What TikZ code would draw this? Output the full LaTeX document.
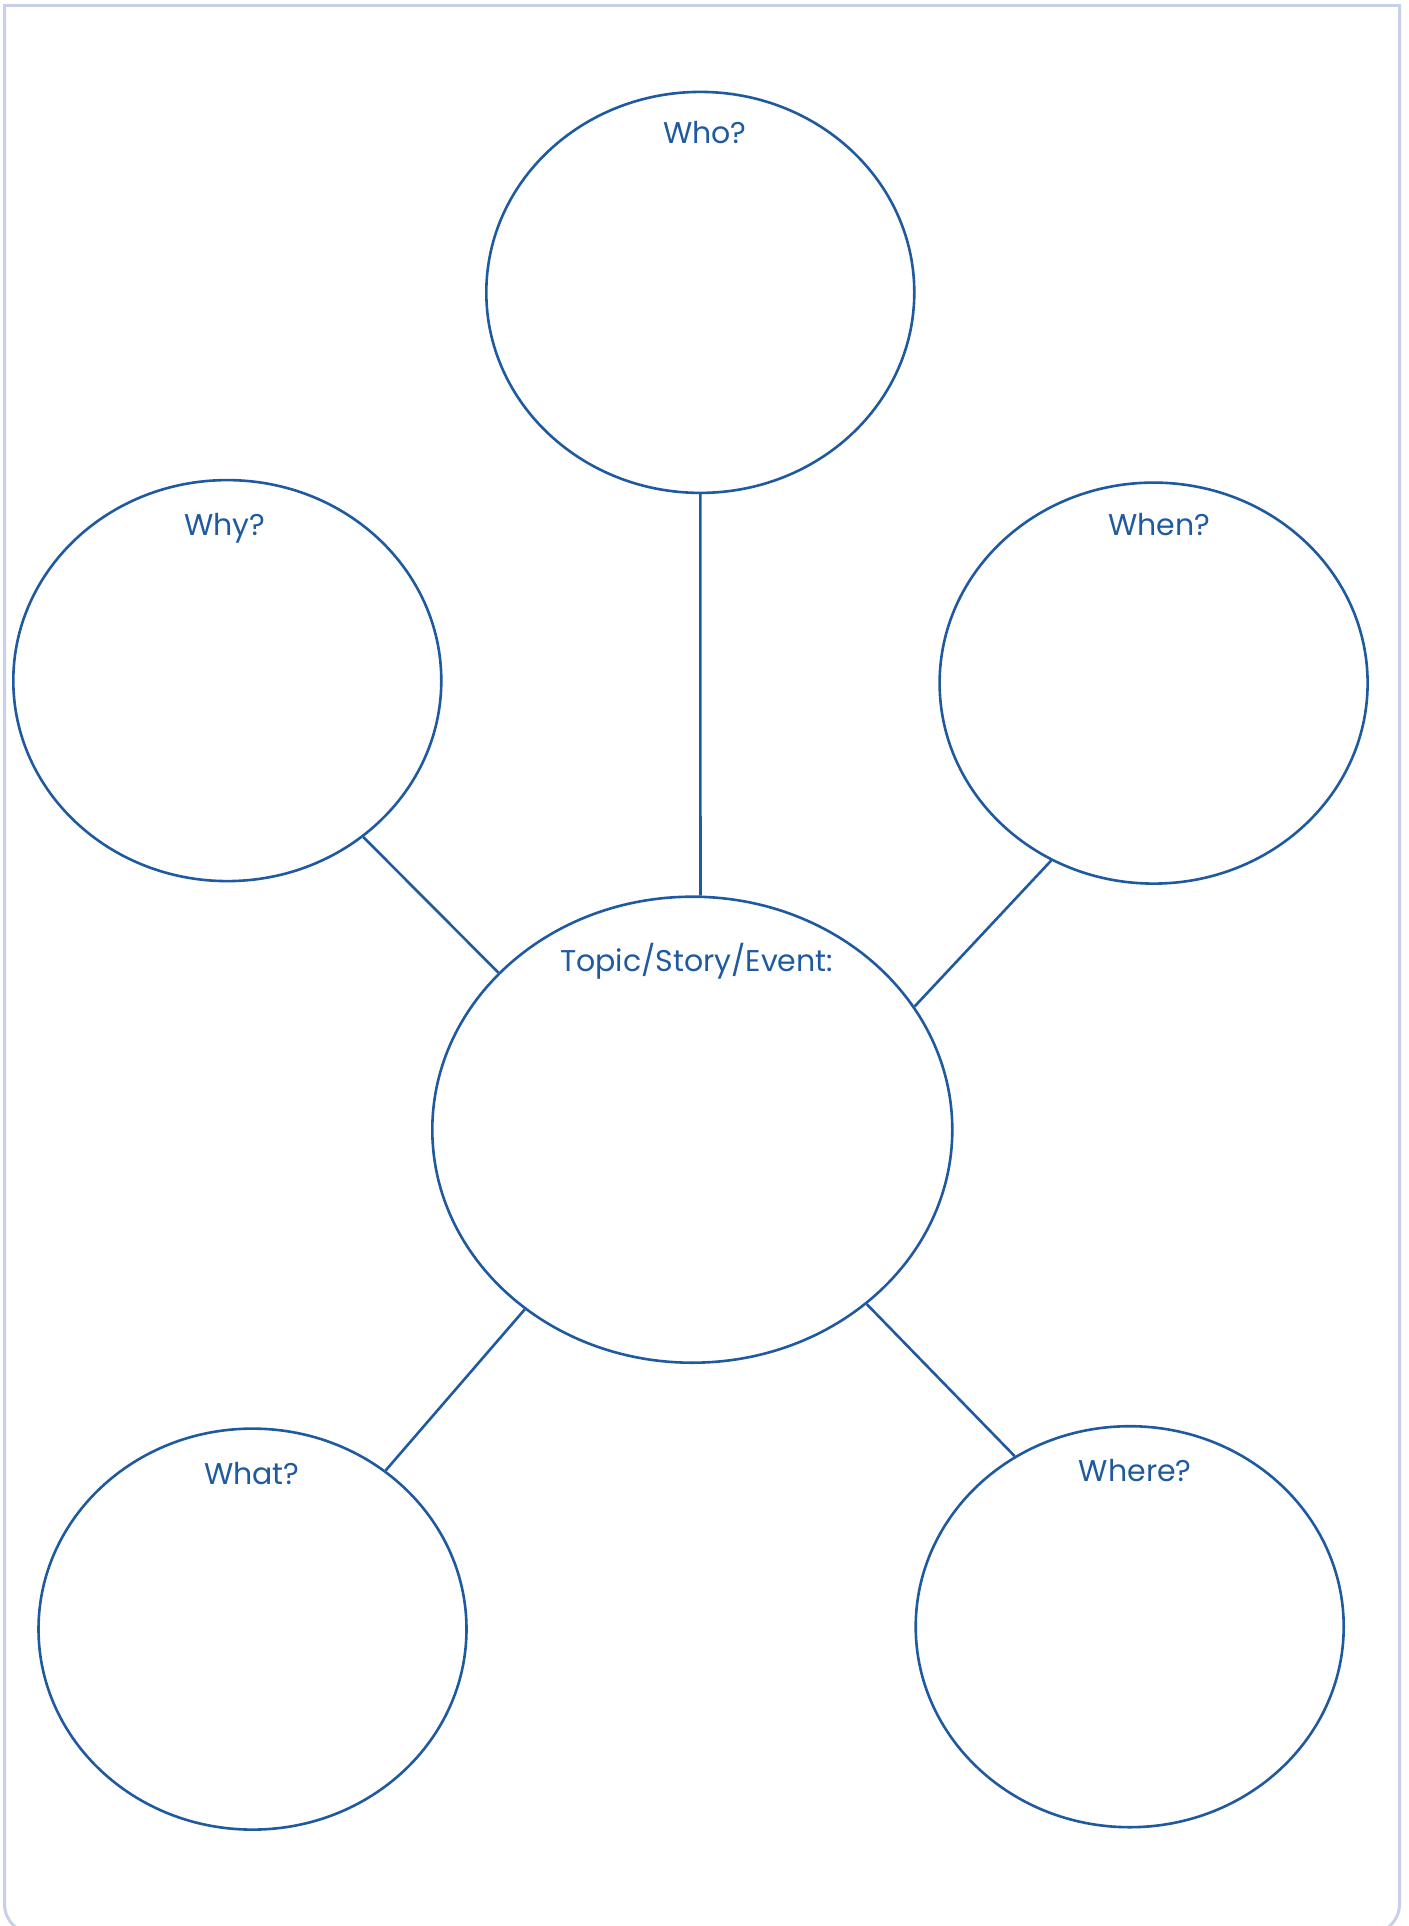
\documentclass[tikz,border=0pt]{standalone}
\usepackage{fontspec}
\setmainfont{Poppins}
\usetikzlibrary{shapes.geometric}
\definecolor{inkblue}{HTML}{1F5AA0}
\definecolor{framecol}{HTML}{C8D0E8}
\tikzset{
  bubble/.style={ellipse, draw=inkblue, line width=2.6pt, inner sep=0pt, minimum width=428pt, minimum height=401pt},
  bigbubble/.style={bubble, minimum width=520pt, minimum height=466pt},
  lbl/.style={text=inkblue, anchor=base, inner sep=0pt, font=\fontsize{30}{36}\selectfont},
  link/.style={draw=inkblue, line width=2.6pt},
  framestyle/.style={draw=framecol, line width=3pt},
}
\begin{document}
\begin{tikzpicture}[x=1pt,y=-1pt]
\useasboundingbox (0,0) rectangle (1408,1926);
\fill[white] (0,0) rectangle (1408,1926);
\begin{scope}
\clip (0,0) rectangle (1408,1926);
\draw[framestyle, rounded corners=30pt] (4.5,5.5) -- (4.5,1934) -- (1399.5,1934) -- (1399.5,5.5);
\draw[framestyle, line cap=rect] (4.5,5.5) -- (1399.5,5.5);
\end{scope}
\node[bubble] (who) at (700.3,292.4) {};
\node[bubble] (why) at (227.3,680.6) {};
\node[bubble] (when) at (1153.6,683.1) {};
\node[bigbubble] (topic) at (692.3,1129.7) {};
\node[bubble] (what) at (252.5,1629.1) {};
\node[bubble] (where) at (1129.7,1626.7) {};
\draw[link] (who.-90.7) -- (topic.88.6);
\draw[link] (why.-49.8) -- (topic.141.6);
\draw[link] (when.-120.9) -- (topic.29.5);
\draw[link] (what.50.9) -- (topic.-133.2);
\draw[link] (where.124) -- (topic.-45.2);
\node[lbl] (whol) at (705,143.7) {Who?};
\node[lbl] (whyl) at (225,535) {Why?};
\node[lbl] (whenl) at (1159,535.7) {When?};
\node[lbl] (topicl) at (696.5,971) {Topic/Story/Event:};
\node[lbl] (whatl) at (251.9,1484) {What?};
\node[lbl] (wherel) at (1135.2,1481.7) {Where?};
\end{tikzpicture}
\end{document}
